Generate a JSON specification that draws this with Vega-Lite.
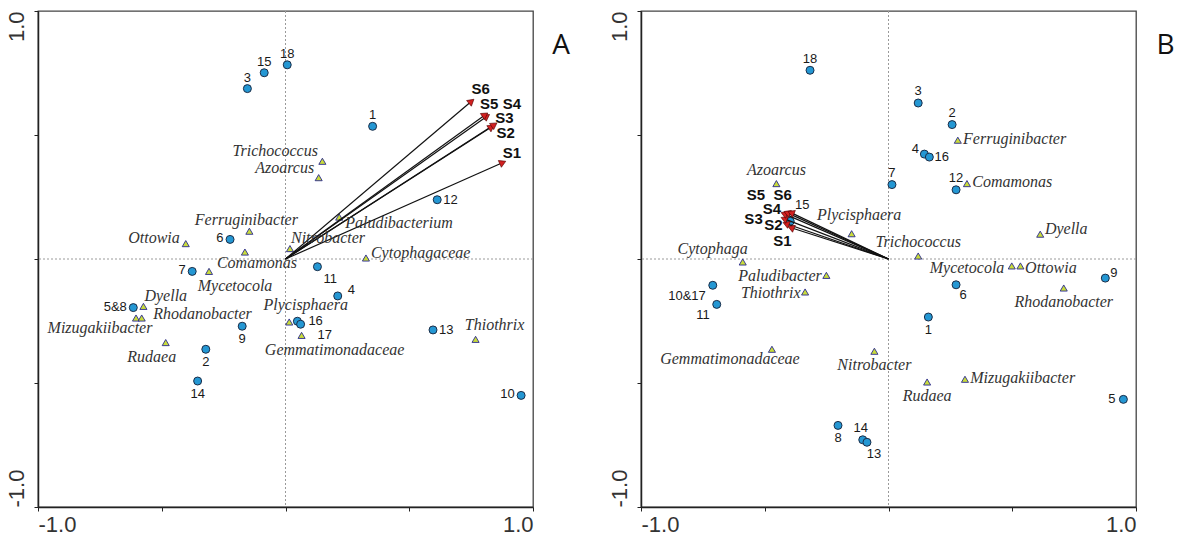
{
"$schema": "https://vega.github.io/schema/vega-lite/v6.json",
"background": "white",
"padding": {"left": 4, "top": 9, "right": 0, "bottom": 0},
"spacing": 36,
"datasets": {
"sA": [{"n":"18","x":0.007,"y":0.783},{"n":"15","x":-0.086,"y":0.751},{"n":"3","x":-0.154,"y":0.687},{"n":"1","x":0.352,"y":0.535},{"n":"12","x":0.613,"y":0.239},{"n":"6","x":-0.224,"y":0.079},{"n":"7","x":-0.377,"y":-0.050},{"n":"5&8","x":-0.615,"y":-0.196},{"n":"9","x":-0.175,"y":-0.271},{"n":"2","x":-0.322,"y":-0.364},{"n":"14","x":-0.355,"y":-0.492},{"n":"11","x":0.129,"y":-0.031},{"n":"4","x":0.211,"y":-0.149},{"n":"16","x":0.048,"y":-0.251},{"n":"17","x":0.061,"y":-0.263},{"n":"13","x":0.596,"y":-0.286},{"n":"10","x":0.952,"y":-0.550}],
"pA": [{"n":"Trichococcus","x":0.149,"y":0.394},{"n":"Azoarcus","x":0.134,"y":0.328},{"n":"Paludibacterium","x":0.217,"y":0.169},{"n":"Nitrobacter","x":0.018,"y":0.042},{"n":"Cytophagaceae","x":0.325,"y":0.004},{"n":"Comamonas","x":-0.164,"y":0.028},{"n":"Ottowia","x":-0.403,"y":0.062},{"n":"Ferruginibacter","x":-0.146,"y":0.112},{"n":"Mycetocola","x":-0.309,"y":-0.050},{"n":"Dyella","x":-0.574,"y":-0.191},{"n":"Mizugakiibacter","x":-0.604,"y":-0.238},{"n":"Rhodanobacter","x":-0.581,"y":-0.238},{"n":"Rudaea","x":-0.484,"y":-0.337},{"n":"Plycisphaera","x":0.015,"y":-0.254},{"n":"Gemmatimonadaceae","x":0.065,"y":-0.308},{"n":"Thiothrix","x":0.768,"y":-0.324}],
"eA": [{"n":"S1","x":0.874,"y":0.387},{"n":"S2","x":0.829,"y":0.530},{"n":"S3","x":0.840,"y":0.539},{"n":"S4","x":0.810,"y":0.573},{"n":"S5","x":0.803,"y":0.579},{"n":"S6","x":0.748,"y":0.633}],
"sB": [{"n":"18","x":-0.317,"y":0.761},{"n":"15","x":-0.397,"y":0.152},{"n":"7","x":0.014,"y":0.300},{"n":"3","x":0.120,"y":0.629},{"n":"2","x":0.257,"y":0.542},{"n":"4","x":0.145,"y":0.423},{"n":"16","x":0.165,"y":0.411},{"n":"12","x":0.273,"y":0.279},{"n":"9","x":0.876,"y":-0.077},{"n":"6","x":0.273,"y":-0.104},{"n":"1","x":0.161,"y":-0.234},{"n":"5","x":0.949,"y":-0.566},{"n":"10&17","x":-0.710,"y":-0.106},{"n":"11","x":-0.694,"y":-0.183},{"n":"8","x":-0.204,"y":-0.671},{"n":"14","x":-0.104,"y":-0.729},{"n":"13","x":-0.087,"y":-0.739}],
"pB": [{"n":"Azoarcus","x":-0.453,"y":0.304},{"n":"Plycisphaera","x":-0.149,"y":0.102},{"n":"Cytophaga","x":-0.589,"y":-0.012},{"n":"Trichococcus","x":0.120,"y":0.012},{"n":"Ferruginibacter","x":0.280,"y":0.479},{"n":"Comamonas","x":0.317,"y":0.304},{"n":"Dyella","x":0.613,"y":0.100},{"n":"Mycetocola","x":0.498,"y":-0.028},{"n":"Ottowia","x":0.533,"y":-0.028},{"n":"Rhodanobacter","x":0.708,"y":-0.117},{"n":"Rudaea","x":0.156,"y":-0.496},{"n":"Mizugakiibacter","x":0.309,"y":-0.485},{"n":"Paludibacter","x":-0.251,"y":-0.066},{"n":"Thiothrix","x":-0.337,"y":-0.133},{"n":"Gemmatimonadaceae","x":-0.471,"y":-0.364},{"n":"Nitrobacter","x":-0.057,"y":-0.372}],
"eB": [{"n":"S1","x":-0.390,"y":0.125},{"n":"S2","x":-0.410,"y":0.141},{"n":"S3","x":-0.418,"y":0.161},{"n":"S4","x":-0.418,"y":0.181},{"n":"S5","x":-0.406,"y":0.185},{"n":"S6","x":-0.390,"y":0.185}]
},
"hconcat": [
{
"width": 495, "height": 496,
"title": {"text": "A", "orient": "right", "anchor": "start", "angle": 0, "align": "left", "baseline": "alphabetic", "font": "Open Sans", "fontSize": 28, "fontWeight": "normal", "color": "#111", "offset": 1, "dy": 43},
"layer": [
{"data": {"values": [{}]}, "mark": {"type": "rule", "color": "#9a9a9a", "strokeDash": [2, 2], "strokeWidth": 1}, "encoding": {"x": {"datum": 0, "type": "quantitative"}}},
{"data": {"values": [{}]}, "mark": {"type": "rule", "color": "#9a9a9a", "strokeDash": [2, 2], "strokeWidth": 1}, "encoding": {"y": {"datum": 0, "type": "quantitative"}}},
{"data": {"name": "pA"}, "mark": {"type": "point", "shape": "triangle-up", "filled": true, "fill": "#c9dc3a", "stroke": "#2a2a90", "strokeWidth": 0.9, "size": 50, "opacity": 1}, "encoding": {"x": {"field": "x", "type": "quantitative"}, "y": {"field": "y", "type": "quantitative"}}},
{"data": {"name": "sA"}, "mark": {"type": "point", "shape": "circle", "filled": true, "fill": "#2497d3", "stroke": "#1b2d48", "strokeWidth": 1, "size": 64, "opacity": 1},
 "encoding": {
  "x": {"field": "x", "type": "quantitative", "scale": {"domain": [-1, 1], "nice": false, "zero": false},
   "axis": {"title": null, "grid": false, "values": [-1, -0.5, 0, 0.5, 1], "labelExpr": "datum.value == -1 ? '-1.0' : datum.value == 1 ? '1.0' : ''", "labelFlush": true, "labelOverlap": false, "labelFont": "Liberation Sans", "labelFontSize": 22, "labelColor": "#333", "labelPadding": 3, "tickSize": 4, "tickColor": "#222", "domainColor": "#222", "domainWidth": 1.5}},
  "y": {"field": "y", "type": "quantitative", "scale": {"domain": [-1, 1], "nice": false, "zero": false},
   "axis": {"title": null, "grid": false, "values": [-1, -0.5, 0, 0.5, 1], "labelExpr": "datum.value == -1 ? '-1.0' : datum.value == 1 ? '1.0' : ''", "labelAngle": 270, "labelAlign": {"condition": {"test": "datum.value < 0", "value": "left"}, "value": "right"}, "labelBaseline": "bottom", "labelOverlap": false, "labelFont": "Liberation Sans", "labelFontSize": 22, "labelColor": "#333", "labelPadding": 6, "tickSize": 4, "tickColor": "#222", "domainColor": "#222", "domainWidth": 1.5}}}},
{"data": {"name": "eA"}, "mark": {"type": "rule", "color": "#111", "strokeWidth": 1.2}, "encoding": {"x": {"field": "x", "type": "quantitative"}, "y": {"field": "y", "type": "quantitative"}, "x2": {"datum": 0}, "y2": {"datum": 0}}},
{"data": {"name": "eA"}, "transform": [{"filter": {"field": "n", "oneOf": ["S6"]}}], "mark": {"type": "point", "shape": "triangle", "angle": 50, "filled": true, "fill": "#d22020", "stroke": "#500", "strokeWidth": 0.6, "size": 55, "opacity": 1}, "encoding": {"x": {"field": "x", "type": "quantitative"}, "y": {"field": "y", "type": "quantitative"}}},
{"data": {"name": "eA"}, "transform": [{"filter": {"field": "n", "oneOf": ["S5", "S4", "S3", "S2"]}}], "mark": {"type": "point", "shape": "triangle", "angle": 56, "filled": true, "fill": "#d22020", "stroke": "#500", "strokeWidth": 0.6, "size": 55, "opacity": 1}, "encoding": {"x": {"field": "x", "type": "quantitative"}, "y": {"field": "y", "type": "quantitative"}}},
{"data": {"name": "eA"}, "transform": [{"filter": {"field": "n", "oneOf": ["S1"]}}], "mark": {"type": "point", "shape": "triangle", "angle": 66, "filled": true, "fill": "#d22020", "stroke": "#500", "strokeWidth": 0.6, "size": 55, "opacity": 1}, "encoding": {"x": {"field": "x", "type": "quantitative"}, "y": {"field": "y", "type": "quantitative"}}},

{"data": {"name": "sA"}, "transform": [{"filter": {"field": "n", "oneOf": ["18", "15", "3", "1"]}}], "mark": {"type": "text", "font": "Liberation Sans", "fontSize": 13, "fill": "#1a1a1a", "align": "center", "baseline": "middle", "dy": -11}, "encoding": {"x": {"field": "x", "type": "quantitative"}, "y": {"field": "y", "type": "quantitative"}, "text": {"field": "n"}}},
{"data": {"name": "sA"}, "transform": [{"filter": {"field": "n", "oneOf": ["9", "2", "14"]}}], "mark": {"type": "text", "font": "Liberation Sans", "fontSize": 13, "fill": "#1a1a1a", "align": "center", "baseline": "middle", "dy": 12.5}, "encoding": {"x": {"field": "x", "type": "quantitative"}, "y": {"field": "y", "type": "quantitative"}, "text": {"field": "n"}}},
{"data": {"name": "sA"}, "transform": [{"filter": {"field": "n", "oneOf": ["6", "7", "5&8", "10"]}}], "mark": {"type": "text", "font": "Liberation Sans", "fontSize": 13, "fill": "#1a1a1a", "align": "right", "baseline": "middle", "dx": -6.5, "dy": -1}, "encoding": {"x": {"field": "x", "type": "quantitative"}, "y": {"field": "y", "type": "quantitative"}, "text": {"field": "n"}}},
{"data": {"name": "sA"}, "transform": [{"filter": {"field": "n", "oneOf": ["12", "13"]}}], "mark": {"type": "text", "font": "Liberation Sans", "fontSize": 13, "fill": "#1a1a1a", "align": "left", "baseline": "middle", "dx": 6}, "encoding": {"x": {"field": "x", "type": "quantitative"}, "y": {"field": "y", "type": "quantitative"}, "text": {"field": "n"}}},
{"data": {"name": "sA"}, "transform": [{"filter": {"field": "n", "oneOf": ["16"]}}], "mark": {"type": "text", "font": "Liberation Sans", "fontSize": 13, "fill": "#1a1a1a", "align": "left", "baseline": "middle", "dx": 11}, "encoding": {"x": {"field": "x", "type": "quantitative"}, "y": {"field": "y", "type": "quantitative"}, "text": {"field": "n"}}},
{"data": {"name": "sA"}, "transform": [{"filter": {"field": "n", "oneOf": ["4"]}}], "mark": {"type": "text", "font": "Liberation Sans", "fontSize": 13, "fill": "#1a1a1a", "align": "left", "baseline": "middle", "dx": 10, "dy": -6}, "encoding": {"x": {"field": "x", "type": "quantitative"}, "y": {"field": "y", "type": "quantitative"}, "text": {"field": "n"}}},
{"data": {"name": "sA"}, "transform": [{"filter": {"field": "n", "oneOf": ["17"]}}], "mark": {"type": "text", "font": "Liberation Sans", "fontSize": 13, "fill": "#1a1a1a", "align": "left", "baseline": "middle", "dx": 17, "dy": 11}, "encoding": {"x": {"field": "x", "type": "quantitative"}, "y": {"field": "y", "type": "quantitative"}, "text": {"field": "n"}}},
{"data": {"name": "sA"}, "transform": [{"filter": {"field": "n", "oneOf": ["11"]}}], "mark": {"type": "text", "font": "Liberation Sans", "fontSize": 13, "fill": "#1a1a1a", "align": "left", "baseline": "middle", "dx": 6, "dy": 12}, "encoding": {"x": {"field": "x", "type": "quantitative"}, "y": {"field": "y", "type": "quantitative"}, "text": {"field": "n"}}},

{"data": {"name": "pA"}, "transform": [{"filter": {"field": "n", "oneOf": ["Trichococcus", "Azoarcus"]}}], "mark": {"type": "text", "font": "Liberation Serif", "fontStyle": "italic", "fontSize": 16, "fill": "#333", "align": "right", "baseline": "middle", "dx": -4.5, "dy": -10}, "encoding": {"x": {"field": "x", "type": "quantitative"}, "y": {"field": "y", "type": "quantitative"}, "text": {"field": "n"}}},
{"data": {"name": "pA"}, "transform": [{"filter": {"field": "n", "oneOf": ["Ferruginibacter"]}}], "mark": {"type": "text", "font": "Liberation Serif", "fontStyle": "italic", "fontSize": 16, "fill": "#333", "align": "center", "baseline": "middle", "dx": -3, "dy": -11}, "encoding": {"x": {"field": "x", "type": "quantitative"}, "y": {"field": "y", "type": "quantitative"}, "text": {"field": "n"}}},
{"data": {"name": "pA"}, "transform": [{"filter": {"field": "n", "oneOf": ["Ottowia"]}}], "mark": {"type": "text", "font": "Liberation Serif", "fontStyle": "italic", "fontSize": 16, "fill": "#333", "align": "right", "baseline": "middle", "dx": -6, "dy": -6}, "encoding": {"x": {"field": "x", "type": "quantitative"}, "y": {"field": "y", "type": "quantitative"}, "text": {"field": "n"}}},
{"data": {"name": "pA"}, "transform": [{"filter": {"field": "n", "oneOf": ["Comamonas"]}}], "mark": {"type": "text", "font": "Liberation Serif", "fontStyle": "italic", "fontSize": 16, "fill": "#333", "align": "center", "baseline": "middle", "dx": 12, "dy": 11}, "encoding": {"x": {"field": "x", "type": "quantitative"}, "y": {"field": "y", "type": "quantitative"}, "text": {"field": "n"}}},
{"data": {"name": "pA"}, "transform": [{"filter": {"field": "n", "oneOf": ["Nitrobacter", "Dyella"]}}], "mark": {"type": "text", "font": "Liberation Serif", "fontStyle": "italic", "fontSize": 16, "fill": "#333", "align": "left", "baseline": "middle", "dx": 1, "dy": -10.5}, "encoding": {"x": {"field": "x", "type": "quantitative"}, "y": {"field": "y", "type": "quantitative"}, "text": {"field": "n"}}},
{"data": {"name": "pA"}, "transform": [{"filter": {"field": "n", "oneOf": ["Paludibacterium"]}}], "mark": {"type": "text", "font": "Liberation Serif", "fontStyle": "italic", "fontSize": 16, "fill": "#333", "align": "left", "baseline": "middle", "dx": 6, "dy": 6}, "encoding": {"x": {"field": "x", "type": "quantitative"}, "y": {"field": "y", "type": "quantitative"}, "text": {"field": "n"}}},
{"data": {"name": "pA"}, "transform": [{"filter": {"field": "n", "oneOf": ["Cytophagaceae"]}}], "mark": {"type": "text", "font": "Liberation Serif", "fontStyle": "italic", "fontSize": 16, "fill": "#333", "align": "left", "baseline": "middle", "dx": 5, "dy": -5}, "encoding": {"x": {"field": "x", "type": "quantitative"}, "y": {"field": "y", "type": "quantitative"}, "text": {"field": "n"}}},
{"data": {"name": "pA"}, "transform": [{"filter": {"field": "n", "oneOf": ["Rhodanobacter"]}}], "mark": {"type": "text", "font": "Liberation Serif", "fontStyle": "italic", "fontSize": 16, "fill": "#333", "align": "left", "baseline": "middle", "dx": 11.5, "dy": -4}, "encoding": {"x": {"field": "x", "type": "quantitative"}, "y": {"field": "y", "type": "quantitative"}, "text": {"field": "n"}}},
{"data": {"name": "pA"}, "transform": [{"filter": {"field": "n", "oneOf": ["Mycetocola"]}}], "mark": {"type": "text", "font": "Liberation Serif", "fontStyle": "italic", "fontSize": 16, "fill": "#333", "align": "center", "baseline": "middle", "dx": 26, "dy": 15}, "encoding": {"x": {"field": "x", "type": "quantitative"}, "y": {"field": "y", "type": "quantitative"}, "text": {"field": "n"}}},
{"data": {"name": "pA"}, "transform": [{"filter": {"field": "n", "oneOf": ["Mizugakiibacter"]}}], "mark": {"type": "text", "font": "Liberation Serif", "fontStyle": "italic", "fontSize": 16, "fill": "#333", "align": "center", "baseline": "middle", "dx": -36, "dy": 10}, "encoding": {"x": {"field": "x", "type": "quantitative"}, "y": {"field": "y", "type": "quantitative"}, "text": {"field": "n"}}},
{"data": {"name": "pA"}, "transform": [{"filter": {"field": "n", "oneOf": ["Rudaea"]}}], "mark": {"type": "text", "font": "Liberation Serif", "fontStyle": "italic", "fontSize": 16, "fill": "#333", "align": "center", "baseline": "middle", "dx": -14, "dy": 14}, "encoding": {"x": {"field": "x", "type": "quantitative"}, "y": {"field": "y", "type": "quantitative"}, "text": {"field": "n"}}},
{"data": {"name": "pA"}, "transform": [{"filter": {"field": "n", "oneOf": ["Plycisphaera"]}}], "mark": {"type": "text", "font": "Liberation Serif", "fontStyle": "italic", "fontSize": 16, "fill": "#333", "align": "center", "baseline": "middle", "dx": 16.5, "dy": -16.5}, "encoding": {"x": {"field": "x", "type": "quantitative"}, "y": {"field": "y", "type": "quantitative"}, "text": {"field": "n"}}},
{"data": {"name": "pA"}, "transform": [{"filter": {"field": "n", "oneOf": ["Gemmatimonadaceae"]}}], "mark": {"type": "text", "font": "Liberation Serif", "fontStyle": "italic", "fontSize": 16, "fill": "#333", "align": "center", "baseline": "middle", "dx": 33, "dy": 15}, "encoding": {"x": {"field": "x", "type": "quantitative"}, "y": {"field": "y", "type": "quantitative"}, "text": {"field": "n"}}},
{"data": {"name": "pA"}, "transform": [{"filter": {"field": "n", "oneOf": ["Thiothrix"]}}], "mark": {"type": "text", "font": "Liberation Serif", "fontStyle": "italic", "fontSize": 16, "fill": "#333", "align": "center", "baseline": "middle", "dx": 19, "dy": -14.5}, "encoding": {"x": {"field": "x", "type": "quantitative"}, "y": {"field": "y", "type": "quantitative"}, "text": {"field": "n"}}},

{"data": {"name": "eA"}, "transform": [{"filter": {"field": "n", "oneOf": ["S6"]}}], "mark": {"type": "text", "font": "Liberation Sans", "fontWeight": "bold", "fontSize": 15, "fill": "#111", "align": "center", "baseline": "middle", "dx": 10, "dy": -13}, "encoding": {"x": {"field": "x", "type": "quantitative"}, "y": {"field": "y", "type": "quantitative"}, "text": {"field": "n"}}},
{"data": {"name": "eA"}, "transform": [{"filter": {"field": "n", "oneOf": ["S1"]}}], "mark": {"type": "text", "font": "Liberation Sans", "fontWeight": "bold", "fontSize": 15, "fill": "#111", "align": "center", "baseline": "middle", "dx": 10, "dy": -10.5}, "encoding": {"x": {"field": "x", "type": "quantitative"}, "y": {"field": "y", "type": "quantitative"}, "text": {"field": "n"}}},
{"data": {"name": "eA"}, "transform": [{"filter": {"field": "n", "oneOf": ["S5"]}}], "mark": {"type": "text", "font": "Liberation Sans", "fontWeight": "bold", "fontSize": 15, "fill": "#111", "align": "center", "baseline": "middle", "dx": 5, "dy": -11}, "encoding": {"x": {"field": "x", "type": "quantitative"}, "y": {"field": "y", "type": "quantitative"}, "text": {"field": "n"}}},
{"data": {"name": "eA"}, "transform": [{"filter": {"field": "n", "oneOf": ["S4"]}}], "mark": {"type": "text", "font": "Liberation Sans", "fontWeight": "bold", "fontSize": 15, "fill": "#111", "align": "center", "baseline": "middle", "dx": 26, "dy": -13}, "encoding": {"x": {"field": "x", "type": "quantitative"}, "y": {"field": "y", "type": "quantitative"}, "text": {"field": "n"}}},
{"data": {"name": "eA"}, "transform": [{"filter": {"field": "n", "oneOf": ["S3"]}}], "mark": {"type": "text", "font": "Liberation Sans", "fontWeight": "bold", "fontSize": 15, "fill": "#111", "align": "center", "baseline": "middle", "dx": 11, "dy": -7}, "encoding": {"x": {"field": "x", "type": "quantitative"}, "y": {"field": "y", "type": "quantitative"}, "text": {"field": "n"}}},
{"data": {"name": "eA"}, "transform": [{"filter": {"field": "n", "oneOf": ["S2"]}}], "mark": {"type": "text", "font": "Liberation Sans", "fontWeight": "bold", "fontSize": 15, "fill": "#111", "align": "center", "baseline": "middle", "dx": 15, "dy": 5.5}, "encoding": {"x": {"field": "x", "type": "quantitative"}, "y": {"field": "y", "type": "quantitative"}, "text": {"field": "n"}}}
]
},
{
"width": 495, "height": 496,
"title": {"text": "B", "orient": "right", "anchor": "start", "angle": 0, "align": "left", "baseline": "alphabetic", "font": "Open Sans", "fontSize": 28, "fontWeight": "normal", "color": "#111", "offset": 2, "dy": 43},
"layer": [
{"data": {"values": [{}]}, "mark": {"type": "rule", "color": "#9a9a9a", "strokeDash": [2, 2], "strokeWidth": 1}, "encoding": {"x": {"datum": 0, "type": "quantitative"}}},
{"data": {"values": [{}]}, "mark": {"type": "rule", "color": "#9a9a9a", "strokeDash": [2, 2], "strokeWidth": 1}, "encoding": {"y": {"datum": 0, "type": "quantitative"}}},
{"data": {"name": "pB"}, "mark": {"type": "point", "shape": "triangle-up", "filled": true, "fill": "#c9dc3a", "stroke": "#2a2a90", "strokeWidth": 0.9, "size": 50, "opacity": 1}, "encoding": {"x": {"field": "x", "type": "quantitative"}, "y": {"field": "y", "type": "quantitative"}}},
{"data": {"name": "sB"}, "mark": {"type": "point", "shape": "circle", "filled": true, "fill": "#2497d3", "stroke": "#1b2d48", "strokeWidth": 1, "size": 64, "opacity": 1},
 "encoding": {
  "x": {"field": "x", "type": "quantitative", "scale": {"domain": [-1, 1], "nice": false, "zero": false},
   "axis": {"title": null, "grid": false, "values": [-1, -0.5, 0, 0.5, 1], "labelExpr": "datum.value == -1 ? '-1.0' : datum.value == 1 ? '1.0' : ''", "labelFlush": true, "labelOverlap": false, "labelFont": "Liberation Sans", "labelFontSize": 22, "labelColor": "#333", "labelPadding": 3, "tickSize": 4, "tickColor": "#222", "domainColor": "#222", "domainWidth": 1.5}},
  "y": {"field": "y", "type": "quantitative", "scale": {"domain": [-1, 1], "nice": false, "zero": false},
   "axis": {"title": null, "grid": false, "values": [-1, -0.5, 0, 0.5, 1], "labelExpr": "datum.value == -1 ? '-1.0' : datum.value == 1 ? '1.0' : ''", "labelAngle": 270, "labelAlign": {"condition": {"test": "datum.value < 0", "value": "left"}, "value": "right"}, "labelBaseline": "bottom", "labelOverlap": false, "labelFont": "Liberation Sans", "labelFontSize": 22, "labelColor": "#333", "labelPadding": 6, "tickSize": 4, "tickColor": "#222", "domainColor": "#222", "domainWidth": 1.5}}}},
{"data": {"name": "eB"}, "mark": {"type": "rule", "color": "#111", "strokeWidth": 1.2}, "encoding": {"x": {"field": "x", "type": "quantitative"}, "y": {"field": "y", "type": "quantitative"}, "x2": {"datum": 0}, "y2": {"datum": 0}}},
{"data": {"name": "eB"}, "mark": {"type": "point", "shape": "triangle", "angle": 292, "filled": true, "fill": "#d22020", "stroke": "#500", "strokeWidth": 0.6, "size": 55, "opacity": 1}, "encoding": {"x": {"field": "x", "type": "quantitative"}, "y": {"field": "y", "type": "quantitative"}}},

{"data": {"name": "sB"}, "transform": [{"filter": {"field": "n", "oneOf": ["18", "7", "3", "2", "12"]}}], "mark": {"type": "text", "font": "Liberation Sans", "fontSize": 13, "fill": "#1a1a1a", "align": "center", "baseline": "middle", "dy": -11.7}, "encoding": {"x": {"field": "x", "type": "quantitative"}, "y": {"field": "y", "type": "quantitative"}, "text": {"field": "n"}}},
{"data": {"name": "sB"}, "transform": [{"filter": {"field": "n", "oneOf": ["14"]}}], "mark": {"type": "text", "font": "Liberation Sans", "fontSize": 13, "fill": "#1a1a1a", "align": "center", "baseline": "middle", "dx": -2, "dy": -11.5}, "encoding": {"x": {"field": "x", "type": "quantitative"}, "y": {"field": "y", "type": "quantitative"}, "text": {"field": "n"}}},
{"data": {"name": "sB"}, "transform": [{"filter": {"field": "n", "oneOf": ["15"]}}], "mark": {"type": "text", "font": "Liberation Sans", "fontSize": 13, "fill": "#1a1a1a", "align": "center", "baseline": "middle", "dx": 12, "dy": -16}, "encoding": {"x": {"field": "x", "type": "quantitative"}, "y": {"field": "y", "type": "quantitative"}, "text": {"field": "n"}}},
{"data": {"name": "sB"}, "transform": [{"filter": {"field": "n", "oneOf": ["4"]}}], "mark": {"type": "text", "font": "Liberation Sans", "fontSize": 13, "fill": "#1a1a1a", "align": "center", "baseline": "middle", "dx": -9, "dy": -5.5}, "encoding": {"x": {"field": "x", "type": "quantitative"}, "y": {"field": "y", "type": "quantitative"}, "text": {"field": "n"}}},
{"data": {"name": "sB"}, "transform": [{"filter": {"field": "n", "oneOf": ["16"]}}], "mark": {"type": "text", "font": "Liberation Sans", "fontSize": 13, "fill": "#1a1a1a", "align": "center", "baseline": "middle", "dx": 12.5, "dy": 0}, "encoding": {"x": {"field": "x", "type": "quantitative"}, "y": {"field": "y", "type": "quantitative"}, "text": {"field": "n"}}},
{"data": {"name": "sB"}, "transform": [{"filter": {"field": "n", "oneOf": ["9"]}}], "mark": {"type": "text", "font": "Liberation Sans", "fontSize": 13, "fill": "#1a1a1a", "align": "center", "baseline": "middle", "dx": 8.5, "dy": -5}, "encoding": {"x": {"field": "x", "type": "quantitative"}, "y": {"field": "y", "type": "quantitative"}, "text": {"field": "n"}}},
{"data": {"name": "sB"}, "transform": [{"filter": {"field": "n", "oneOf": ["6"]}}], "mark": {"type": "text", "font": "Liberation Sans", "fontSize": 13, "fill": "#1a1a1a", "align": "center", "baseline": "middle", "dx": 7, "dy": 10.5}, "encoding": {"x": {"field": "x", "type": "quantitative"}, "y": {"field": "y", "type": "quantitative"}, "text": {"field": "n"}}},
{"data": {"name": "sB"}, "transform": [{"filter": {"field": "n", "oneOf": ["1", "8"]}}], "mark": {"type": "text", "font": "Liberation Sans", "fontSize": 13, "fill": "#1a1a1a", "align": "center", "baseline": "middle", "dy": 12.7}, "encoding": {"x": {"field": "x", "type": "quantitative"}, "y": {"field": "y", "type": "quantitative"}, "text": {"field": "n"}}},
{"data": {"name": "sB"}, "transform": [{"filter": {"field": "n", "oneOf": ["13"]}}], "mark": {"type": "text", "font": "Liberation Sans", "fontSize": 13, "fill": "#1a1a1a", "align": "center", "baseline": "middle", "dx": 7, "dy": 11.7}, "encoding": {"x": {"field": "x", "type": "quantitative"}, "y": {"field": "y", "type": "quantitative"}, "text": {"field": "n"}}},
{"data": {"name": "sB"}, "transform": [{"filter": {"field": "n", "oneOf": ["5"]}}], "mark": {"type": "text", "font": "Liberation Sans", "fontSize": 13, "fill": "#1a1a1a", "align": "right", "baseline": "middle", "dx": -8, "dy": 0}, "encoding": {"x": {"field": "x", "type": "quantitative"}, "y": {"field": "y", "type": "quantitative"}, "text": {"field": "n"}}},
{"data": {"name": "sB"}, "transform": [{"filter": {"field": "n", "oneOf": ["10&17", "11"]}}], "mark": {"type": "text", "font": "Liberation Sans", "fontSize": 13, "fill": "#1a1a1a", "align": "right", "baseline": "middle", "dx": -7, "dy": 10.7}, "encoding": {"x": {"field": "x", "type": "quantitative"}, "y": {"field": "y", "type": "quantitative"}, "text": {"field": "n"}}},

{"data": {"name": "pB"}, "transform": [{"filter": {"field": "n", "oneOf": ["Azoarcus", "Trichococcus"]}}], "mark": {"type": "text", "font": "Liberation Serif", "fontStyle": "italic", "fontSize": 16, "fill": "#333", "align": "center", "baseline": "middle", "dy": -13.7}, "encoding": {"x": {"field": "x", "type": "quantitative"}, "y": {"field": "y", "type": "quantitative"}, "text": {"field": "n"}}},
{"data": {"name": "pB"}, "transform": [{"filter": {"field": "n", "oneOf": ["Plycisphaera"]}}], "mark": {"type": "text", "font": "Liberation Serif", "fontStyle": "italic", "fontSize": 16, "fill": "#333", "align": "center", "baseline": "middle", "dx": 7.5, "dy": -18.5}, "encoding": {"x": {"field": "x", "type": "quantitative"}, "y": {"field": "y", "type": "quantitative"}, "text": {"field": "n"}}},
{"data": {"name": "pB"}, "transform": [{"filter": {"field": "n", "oneOf": ["Cytophaga"]}}], "mark": {"type": "text", "font": "Liberation Serif", "fontStyle": "italic", "fontSize": 16, "fill": "#333", "align": "right", "baseline": "middle", "dx": 5, "dy": -12.7}, "encoding": {"x": {"field": "x", "type": "quantitative"}, "y": {"field": "y", "type": "quantitative"}, "text": {"field": "n"}}},
{"data": {"name": "pB"}, "transform": [{"filter": {"field": "n", "oneOf": ["Ferruginibacter", "Comamonas", "Mizugakiibacter"]}}], "mark": {"type": "text", "font": "Liberation Serif", "fontStyle": "italic", "fontSize": 16, "fill": "#333", "align": "left", "baseline": "middle", "dx": 5.3, "dy": -1.3}, "encoding": {"x": {"field": "x", "type": "quantitative"}, "y": {"field": "y", "type": "quantitative"}, "text": {"field": "n"}}},
{"data": {"name": "pB"}, "transform": [{"filter": {"field": "n", "oneOf": ["Dyella"]}}], "mark": {"type": "text", "font": "Liberation Serif", "fontStyle": "italic", "fontSize": 16, "fill": "#333", "align": "left", "baseline": "middle", "dx": 4.7, "dy": -5.6}, "encoding": {"x": {"field": "x", "type": "quantitative"}, "y": {"field": "y", "type": "quantitative"}, "text": {"field": "n"}}},
{"data": {"name": "pB"}, "transform": [{"filter": {"field": "n", "oneOf": ["Ottowia"]}}], "mark": {"type": "text", "font": "Liberation Serif", "fontStyle": "italic", "fontSize": 16, "fill": "#333", "align": "left", "baseline": "middle", "dx": 4.7, "dy": 2}, "encoding": {"x": {"field": "x", "type": "quantitative"}, "y": {"field": "y", "type": "quantitative"}, "text": {"field": "n"}}},
{"data": {"name": "pB"}, "transform": [{"filter": {"field": "n", "oneOf": ["Mycetocola"]}}], "mark": {"type": "text", "font": "Liberation Serif", "fontStyle": "italic", "fontSize": 16, "fill": "#333", "align": "right", "baseline": "middle", "dx": -7.4, "dy": 2}, "encoding": {"x": {"field": "x", "type": "quantitative"}, "y": {"field": "y", "type": "quantitative"}, "text": {"field": "n"}}},
{"data": {"name": "pB"}, "transform": [{"filter": {"field": "n", "oneOf": ["Rhodanobacter", "Rudaea", "Nitrobacter"]}}], "mark": {"type": "text", "font": "Liberation Serif", "fontStyle": "italic", "fontSize": 16, "fill": "#333", "align": "center", "baseline": "middle", "dy": 13.7}, "encoding": {"x": {"field": "x", "type": "quantitative"}, "y": {"field": "y", "type": "quantitative"}, "text": {"field": "n"}}},
{"data": {"name": "pB"}, "transform": [{"filter": {"field": "n", "oneOf": ["Paludibacter", "Thiothrix"]}}], "mark": {"type": "text", "font": "Liberation Serif", "fontStyle": "italic", "fontSize": 16, "fill": "#333", "align": "right", "baseline": "middle", "dx": -4.6, "dy": 1}, "encoding": {"x": {"field": "x", "type": "quantitative"}, "y": {"field": "y", "type": "quantitative"}, "text": {"field": "n"}}},
{"data": {"name": "pB"}, "transform": [{"filter": {"field": "n", "oneOf": ["Gemmatimonadaceae"]}}], "mark": {"type": "text", "font": "Liberation Serif", "fontStyle": "italic", "fontSize": 16, "fill": "#333", "align": "center", "baseline": "middle", "dx": -42, "dy": 10}, "encoding": {"x": {"field": "x", "type": "quantitative"}, "y": {"field": "y", "type": "quantitative"}, "text": {"field": "n"}}},

{"data": {"name": "eB"}, "transform": [{"filter": {"field": "n", "oneOf": ["S6"]}}], "mark": {"type": "text", "font": "Liberation Sans", "fontWeight": "bold", "fontSize": 15, "fill": "#111", "align": "center", "baseline": "middle", "dx": -9.3, "dy": -17.7}, "encoding": {"x": {"field": "x", "type": "quantitative"}, "y": {"field": "y", "type": "quantitative"}, "text": {"field": "n"}}},
{"data": {"name": "eB"}, "transform": [{"filter": {"field": "n", "oneOf": ["S5"]}}], "mark": {"type": "text", "font": "Liberation Sans", "fontWeight": "bold", "fontSize": 15, "fill": "#111", "align": "center", "baseline": "middle", "dx": -32, "dy": -17.7}, "encoding": {"x": {"field": "x", "type": "quantitative"}, "y": {"field": "y", "type": "quantitative"}, "text": {"field": "n"}}},
{"data": {"name": "eB"}, "transform": [{"filter": {"field": "n", "oneOf": ["S4"]}}], "mark": {"type": "text", "font": "Liberation Sans", "fontWeight": "bold", "fontSize": 15, "fill": "#111", "align": "center", "baseline": "middle", "dx": -13.2, "dy": -5.3}, "encoding": {"x": {"field": "x", "type": "quantitative"}, "y": {"field": "y", "type": "quantitative"}, "text": {"field": "n"}}},
{"data": {"name": "eB"}, "transform": [{"filter": {"field": "n", "oneOf": ["S3"]}}], "mark": {"type": "text", "font": "Liberation Sans", "fontWeight": "bold", "fontSize": 15, "fill": "#111", "align": "center", "baseline": "middle", "dx": -31.5, "dy": -0.3}, "encoding": {"x": {"field": "x", "type": "quantitative"}, "y": {"field": "y", "type": "quantitative"}, "text": {"field": "n"}}},
{"data": {"name": "eB"}, "transform": [{"filter": {"field": "n", "oneOf": ["S2"]}}], "mark": {"type": "text", "font": "Liberation Sans", "fontWeight": "bold", "fontSize": 15, "fill": "#111", "align": "center", "baseline": "middle", "dx": -13.5, "dy": 1.3}, "encoding": {"x": {"field": "x", "type": "quantitative"}, "y": {"field": "y", "type": "quantitative"}, "text": {"field": "n"}}},
{"data": {"name": "eB"}, "transform": [{"filter": {"field": "n", "oneOf": ["S1"]}}], "mark": {"type": "text", "font": "Liberation Sans", "fontWeight": "bold", "fontSize": 15, "fill": "#111", "align": "center", "baseline": "middle", "dx": -9.5, "dy": 13.3}, "encoding": {"x": {"field": "x", "type": "quantitative"}, "y": {"field": "y", "type": "quantitative"}, "text": {"field": "n"}}}
]
}
],
"config": {"view": {"stroke": "#444", "strokeWidth": 1.3}}
}
